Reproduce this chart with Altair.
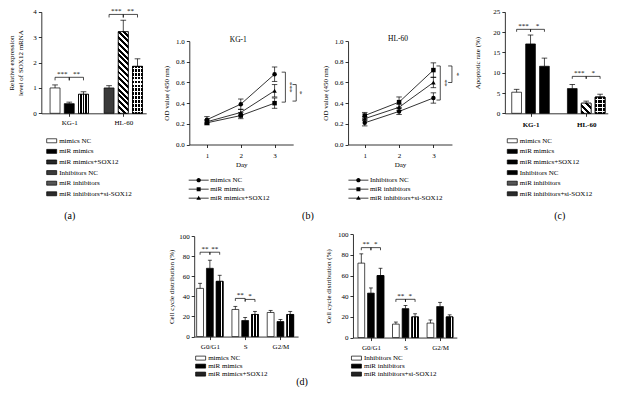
import json
import altair as alt
import pandas as pd

W, H = 601, 389
FONT = "Liberation Serif"


def px(r):
    return round((r - 2) * 0.98, 2)


def py(r):
    return round(r * 0.975, 2)


# ---------------- data ----------------
cell_lines = ["KG-1", "HL-60"]
mimic_conds = ["mimics NC", "miR mimics", "miR mimics+SOX12"]
inhib_conds = ["Inhibitors NC", "miR inhibitors", "miR inhibitors+si-SOX12"]
all_conds = mimic_conds + inhib_conds
phases = ["G0/G1", "S", "G2/M"]
days = [1, 2, 3]

# (a) relative expression level of SOX12 mRNA
a_mean = [1.00, 0.38, 0.75, 1.00, 3.22, 1.85]
a_err = [0.12, 0.06, 0.10, 0.09, 0.45, 0.30]
a_sig = [("KG-1", 0, 1, 1.42, "***"), ("KG-1", 1, 2, 1.42, "**"),
         ("HL-60", 0, 1, 3.90, "***"), ("HL-60", 1, 2, 3.90, "**")]

# (b) OD value (450 nm)
b_kg1_mean = {"mimics NC": [0.24, 0.39, 0.68], "miR mimics": [0.21, 0.28, 0.40],
              "miR mimics+SOX12": [0.22, 0.31, 0.52]}
b_kg1_err = {"mimics NC": [0.03, 0.05, 0.07], "miR mimics": [0.02, 0.03, 0.05],
             "miR mimics+SOX12": [0.02, 0.03, 0.06]}
b_hl60_mean = {"Inhibitors NC": [0.21, 0.32, 0.45], "miR inhibitors": [0.28, 0.41, 0.72],
               "miR inhibitors+si-SOX12": [0.25, 0.36, 0.60]}
b_hl60_err = {"Inhibitors NC": [0.03, 0.03, 0.05], "miR inhibitors": [0.03, 0.05, 0.07],
              "miR inhibitors+si-SOX12": [0.02, 0.03, 0.05]}
b_kg1_sig = [(0.70, 0.41, "***"), (0.58, 0.42, "*")]
b_hl60_sig = [(0.76, 0.43, "**"), (0.76, 0.60, "*")]

# (c) apoptotic rate (%)
c_mean = [5.2, 17.1, 11.6, 6.1, 2.5, 4.0]
c_err = [0.7, 2.2, 2.0, 1.0, 0.5, 0.7]
c_sig = [("KG-1", 0, 1, 20.7, "***"), ("KG-1", 1, 2, 20.7, "*"),
         ("HL-60", 0, 1, 9.1, "***"), ("HL-60", 1, 2, 9.1, "*")]

# (d) cell cycle distribution (%)
d_left_mean = {"mimics NC": [48, 27, 24], "miR mimics": [68, 16, 15], "miR mimics+SOX12": [55, 22, 22]}
d_left_err = {"mimics NC": [5, 3, 2], "miR mimics": [8, 3, 2], "miR mimics+SOX12": [6, 3, 3]}
d_right_mean = {"Inhibitors NC": [72, 13, 14], "miR inhibitors": [43, 28, 30],
                "miR inhibitors+si-SOX12": [60, 20, 20]}
d_right_err = {"Inhibitors NC": [9, 2, 3], "miR inhibitors": [5, 3, 4], "miR inhibitors+si-SOX12": [7, 3, 2]}
d_left_sig = [("G0/G1", 0, 1, 84, "**"), ("G0/G1", 1, 2, 84, "**"),
              ("S", 0, 1, 38, "**"), ("S", 1, 2, 37, "*")]
d_right_sig = [("G0/G1", 0, 1, 87, "**"), ("G0/G1", 1, 2, 87, "*"),
               ("S", 0, 1, 37, "**"), ("S", 1, 2, 37, "*")]


# ---------------- fill patterns (linear gradients) ----------------
def vstripes(n, frac=0.28, dark="black", light="white"):
    stops = []
    for i in range(n):
        a, c = i / n, (i + 1) / n
        m1 = (i + 0.5 - frac / 2) / n
        m2 = (i + 0.5 + frac / 2) / n
        stops += [dict(offset=a, color=dark), dict(offset=m1, color=dark),
                  dict(offset=m1, color=light), dict(offset=m2, color=light),
                  dict(offset=m2, color=dark), dict(offset=c, color=dark)]
    return dict(gradient="linear", x1=0, y1=0, x2=1, y2=0, stops=stops)


def hlines(n, frac=0.25, light="white"):
    clear = "rgba(0,0,0,0)"
    stops = []
    for i in range(n):
        a, c = i / n, (i + 1) / n
        m1 = (i + 0.5 - frac / 2) / n
        m2 = (i + 0.5 + frac / 2) / n
        stops += [dict(offset=a, color=clear), dict(offset=m1, color=clear),
                  dict(offset=m1, color=light), dict(offset=m2, color=light),
                  dict(offset=m2, color=clear), dict(offset=c, color=clear)]
    return dict(gradient="linear", x1=0, y1=0, x2=0, y2=1, stops=stops)


def diag(r, n, dark="black", light="white"):
    dx = (1 + r) / (1 + r * r)
    dy = r * dx
    stops = []
    for i in range(n):
        a, b, c = i / n, (i + 0.5) / n, (i + 1) / n
        stops += [dict(offset=a, color=dark), dict(offset=b, color=dark),
                  dict(offset=b, color=light), dict(offset=c, color=light)]
    return dict(gradient="linear", x1=0, y1=1, x2=round(dx, 4), y2=round(1 - dy, 4), stops=stops)


# ---------------- helpers ----------------
def sc(dom, rng):
    return alt.Scale(domain=dom, range=rng, nice=False, zero=False)


def bar_legend(x, y, rowpad):
    return alt.Legend(orient="none", legendX=x, legendY=y, title=None, direction="vertical",
                      symbolType="M-2.5,-1H2.5V1H-2.5Z", symbolSize=16,
                      symbolStrokeColor="black", symbolStrokeWidth=0.7,
                      labelFont=FONT, labelFontSize=7, labelColor="black",
                      rowPadding=rowpad, labelOffset=4, padding=0)


def text_layer(txt, x, y, size):
    return alt.Chart(pd.DataFrame({"t": [txt]})).mark_text(
        font=FONT, fontSize=size, color="black").encode(x=alt.value(x), y=alt.value(y), text="t:N")


def bar_panel(P, groups, conds_by_group, means, errs, sig, domain, fills, legend,
              patterns, ytitle, yvals, xbold=False):
    rows = []
    for gi, g in enumerate(groups):
        for si, c in enumerate(conds_by_group[gi]):
            m, e = means[gi][si], errs[gi][si]
            pos = gi * P["step"] + si
            rows.append(dict(group=g, cond=c, pos=pos, lo=pos - 0.35, hi=pos + 0.35,
                             cl=pos - 0.2, cr=pos + 0.2, mean=m, top=m + e, zero=0))
    df = pd.DataFrame(rows)
    srows, lrows = [], []
    for g, i, j, y, t in sig:
        gi = groups.index(g)
        xa, xb = gi * P["step"] + i, gi * P["step"] + j
        srows.append(dict(xa=xa, xb=xb, xm=(xa + xb) / 2, ys=y, text=t))
        lrows += [dict(x=xa, ys=y, yl=y - P["leg"]), dict(x=xb, ys=y, yl=y - P["leg"])]
    sdf, ldf = pd.DataFrame(srows), pd.DataFrame(lrows)

    xs, ys = sc(P["xdom"], P["xr"]), sc(P["ydom"], P["yr"])
    centers = [gi * P["step"] + 1 for gi in range(len(groups))]
    lexpr = "%s[round((datum.value - 1) / %s)]" % (json.dumps(groups), P["step"])
    xax = alt.Axis(orient="bottom", offset=round(py(P["ax_y"]) - H, 2), values=centers,
                   labelExpr=lexpr, labelFontWeight="bold" if xbold else "normal",
                   labelPadding=P.get("xlp", 2))
    yax = alt.Axis(orient="left", offset=-px(P["ax_x"]), values=yvals, format="d",
                   titlePadding=P["tpad"])
    X = lambda f: alt.X(f, type="quantitative", scale=xs, axis=None, title=None)
    Y = lambda f: alt.Y(f, type="quantitative", scale=ys, axis=None, title=None)
    base = alt.Chart(df)
    layers = [base.mark_bar(stroke="black", strokeWidth=0.7).encode(
        x=alt.X("lo:Q", scale=xs, axis=xax, title=None), x2="hi:Q",
        y=alt.Y("mean:Q", scale=ys, axis=yax, title=ytitle), y2="zero:Q",
        fill=alt.Fill("cond:N", scale=alt.Scale(domain=domain, range=fills), legend=legend))]
    for cond, grads in patterns:
        for gr in grads:
            layers.append(base.transform_filter(alt.datum.cond == cond)
                          .mark_bar(fill=gr, stroke="black", strokeWidth=0.7)
                          .encode(x=X("lo:Q"), x2="hi:Q", y=Y("mean:Q"), y2="zero:Q"))
    layers.append(base.mark_rule(color="black", strokeWidth=0.7).encode(x=X("pos:Q"), y=Y("mean:Q"), y2="top:Q"))
    layers.append(base.mark_rule(color="black", strokeWidth=0.7).encode(x=X("cl:Q"), x2="cr:Q", y=Y("top:Q")))
    layers.append(alt.Chart(sdf).mark_rule(color="black", strokeWidth=0.7).encode(x=X("xa:Q"), x2="xb:Q", y=Y("ys:Q")))
    layers.append(alt.Chart(ldf).mark_rule(color="black", strokeWidth=0.7).encode(x=X("x:Q"), y=Y("ys:Q"), y2="yl:Q"))
    layers.append(alt.Chart(sdf).mark_text(font=FONT, fontSize=7, baseline="bottom", dy=-0.5, color="black")
                  .encode(x=X("xm:Q"), y=Y("ys:Q"), text="text:N"))
    return layers


LINE_SYMBOLS = [
    "M-5,-0.2H5V0.2H-5Z M1.1,0A1.1,1.1,0,1,1,-1.1,0A1.1,1.1,0,1,1,1.1,0Z",
    "M-5,-0.2H5V0.2H-5Z M-1,-1H1V1H-1Z",
    "M-5,-0.2H5V0.2H-5Z M0,-1.25L1.15,0.8H-1.15Z",
]


def line_panel(P, conds, means, errs, sig, title_text):
    rows = []
    for c in conds:
        for di, d in enumerate(days):
            m, e = means[c][di], errs[c][di]
            rows.append(dict(cond=c, day=d, mean=m, lo=m - e, hi=m + e, cl=d - 0.08, cr=d + 0.08))
    df = pd.DataFrame(rows)
    srows = []
    for k, (yt, yb, t) in enumerate(sig):
        xv = P["bx"][k]
        srows.append(dict(xv=xv, xl=xv - P["leg"], xt=P["tx"][k], yt=yt, yb=yb, ym=(yt + yb) / 2, text=t))
    sdf = pd.DataFrame(srows)
    xs, ys = sc(P["xdom"], P["xr"]), sc([0, 1], P["yr"])
    xax = alt.Axis(orient="bottom", offset=round(py(P["ax_y"]) - H, 2), values=days, format="d",
                   labelPadding=4, titlePadding=2)
    yax = alt.Axis(orient="left", offset=-px(P["ax_x"]), values=[0, 0.2, 0.4, 0.6, 0.8, 1.0],
                   format=".1f", titlePadding=P["tpad"])
    X = lambda f: alt.X(f, type="quantitative", scale=xs, axis=None, title=None)
    Y = lambda f: alt.Y(f, type="quantitative", scale=ys, axis=None, title=None)
    base = alt.Chart(df)
    shp = alt.Scale(domain=conds, range=["circle", "square", "triangle-up"])
    layers = [
        base.mark_line(color="black", strokeWidth=0.8).encode(
            x=alt.X("day:Q", scale=xs, axis=xax, title="Day"),
            y=alt.Y("mean:Q", scale=ys, axis=yax, title="OD value (450 nm)"),
            detail="cond:N"),
        base.mark_rule(color="black", strokeWidth=0.7).encode(x=X("day:Q"), y=Y("lo:Q"), y2="hi:Q"),
        base.mark_rule(color="black", strokeWidth=0.7).encode(x=X("cl:Q"), x2="cr:Q", y=Y("hi:Q")),
        base.mark_rule(color="black", strokeWidth=0.7).encode(x=X("cl:Q"), x2="cr:Q", y=Y("lo:Q")),
        base.mark_point(filled=True, color="black", opacity=1, size=20).encode(
            x=X("day:Q"), y=Y("mean:Q"), shape=alt.Shape("cond:N", scale=shp, legend=None)),
        alt.Chart(sdf).mark_rule(color="black", strokeWidth=0.7).encode(x=X("xv:Q"), y=Y("yt:Q"), y2="yb:Q"),
        alt.Chart(sdf).mark_rule(color="black", strokeWidth=0.7).encode(x=X("xl:Q"), x2="xv:Q", y=Y("yt:Q")),
        alt.Chart(sdf).mark_rule(color="black", strokeWidth=0.7).encode(x=X("xl:Q"), x2="xv:Q", y=Y("yb:Q")),
        alt.Chart(sdf).mark_text(font=FONT, fontSize=7, angle=90, color="black").encode(
            x=X("xt:Q"), y=Y("ym:Q"), text="text:N"),
        base.transform_filter("false").mark_point(filled=True, color="black", opacity=1).encode(
            shape=alt.Shape("cond:N", scale=alt.Scale(domain=conds, range=LINE_SYMBOLS),
                            legend=alt.Legend(orient="none", legendX=P["lx"], legendY=P["ly"], title=None,
                                              direction="vertical", symbolSize=16,
                                              symbolFillColor="black", symbolStrokeColor="black",
                                              symbolStrokeWidth=0.3, labelFont=FONT, labelFontSize=7,
                                              labelColor="black", rowPadding=1, labelOffset=8,
                                              padding=0))),
        text_layer(title_text, px(P["title"][0]), py(P["title"][1]), 7.5),
    ]
    return layers


# ---------------- panel geometry ----------------
PA = dict(xdom=[-0.966, 6.41], xr=[px(36), px(143)], ydom=[0, 4], yr=[py(108), py(4)],
          step=3.8, leg=0.12, ax_x=36, ax_y=108, tpad=9)
PB1 = dict(xdom=[0.478, 3.55], xr=[px(187), px(293)], yr=[py(140), py(34)], ax_x=187, ax_y=140,
           tpad=6, bx=[3.32, 3.64], tx=[3.45, 3.76], leg=0.11, lx=px(193), ly=py(173), title=(237, 33))
PB2 = dict(xdom=[0.514, 3.54], xr=[px(349), px(455)], yr=[py(140), py(34)], ax_x=349, ax_y=140,
           tpad=6, bx=[3.2, 3.54], tx=[3.34, 3.69], leg=0.11, lx=px(356), ly=py(173), title=(400, 32))
PC = dict(xdom=[-0.845, 6.55], xr=[px(509), px(614)], ydom=[0, 25], yr=[py(108), py(4)],
          step=4.0, leg=0.6, ax_x=509, ax_y=108, tpad=12, xlp=4)
PD1 = dict(xdom=[-0.6, 10.0], xr=[px(192), px(298)], ydom=[0, 100], yr=[py(337), py(234)],
           step=3.6, leg=2.5, ax_x=192, ax_y=337, tpad=4, xlp=3)
PD2 = dict(xdom=[-0.87, 9.95], xr=[px(354), px(460)], ydom=[0, 100], yr=[py(338), py(232)],
           step=3.6, leg=2.5, ax_x=354, ax_y=338, tpad=6, xlp=3)

# ---------------- build ----------------
layers = []

a_fill = ["white", "black", "#262626", "#3a3a3a", "#555555", "#2a2a2a"]
a_h_px = a_mean[4] * (py(108) - py(4)) / 4
a_w_px = 0.7 * (px(143) - px(36)) / (6.41 + 0.966)
layers += bar_panel(
    PA, cell_lines, [mimic_conds, inhib_conds], [a_mean[:3], a_mean[3:]], [a_err[:3], a_err[3:]],
    a_sig, all_conds, a_fill, bar_legend(px(43), py(132.6), 2.6),
    [("miR mimics+SOX12", [vstripes(4, 0.3)]),
     ("miR inhibitors", [diag(a_h_px / a_w_px, 16)]),
     ("miR inhibitors+si-SOX12", [vstripes(3, 0.3), hlines(12, 0.3)])],
    ["Relative expression", "level of SOX12 mRNA"], [0, 1, 2, 3, 4])

layers += line_panel(PB1, mimic_conds, b_kg1_mean, b_kg1_err, b_kg1_sig, "KG-1")
layers += line_panel(PB2, inhib_conds, b_hl60_mean, b_hl60_err, b_hl60_sig, "HL-60")

c_fill = ["white", "black", "black", "black", "#555555", "#2a2a2a"]
c_h_px = c_mean[4] * (py(108) - py(4)) / 25
c_w_px = 0.7 * (px(614) - px(509)) / (6.55 + 0.845)
layers += bar_panel(
    PC, cell_lines, [mimic_conds, inhib_conds], [c_mean[:3], c_mean[3:]], [c_err[:3], c_err[3:]],
    c_sig, all_conds, c_fill, bar_legend(px(513), py(132.6), 2.6),
    [("miR inhibitors", [diag(c_h_px / c_w_px, 3)]),
     ("miR inhibitors+si-SOX12", [vstripes(2, 0.15), hlines(4, 0.22)])],
    "Apoptotic rate (%)", [0, 5, 10, 15, 20, 25], xbold=True)

layers += bar_panel(
    PD1, phases, [mimic_conds] * 3,
    [[d_left_mean[c][p] for c in mimic_conds] for p in range(3)],
    [[d_left_err[c][p] for c in mimic_conds] for p in range(3)],
    d_left_sig, mimic_conds, ["white", "black", "#222222"], bar_legend(px(195), py(355.5), 0),
    [("miR mimics+SOX12", [vstripes(2, 0.18)])],
    "Cell cycle distribution (%)", [0, 20, 40, 60, 80, 100])

layers += bar_panel(
    PD2, phases, [inhib_conds] * 3,
    [[d_right_mean[c][p] for c in inhib_conds] for p in range(3)],
    [[d_right_err[c][p] for c in inhib_conds] for p in range(3)],
    d_right_sig, inhib_conds, ["white", "black", "#222222"], bar_legend(px(354), py(355.5), 0),
    [("miR inhibitors+si-SOX12", [vstripes(2, 0.18)])],
    "Cell cycle distribution (%)", [0, 20, 40, 60, 80, 100])

layers += [
    text_layer("(a)", px(65), py(213), 10),
    text_layer("(b)", px(308), py(213), 10),
    text_layer("(c)", px(565), py(213), 10),
    text_layer("(d)", px(302), py(384), 10),
]

chart = (
    alt.layer(*layers)
    .resolve_scale(x="independent", y="independent", fill="independent", shape="independent")
    .resolve_axis(x="independent", y="independent")
    .resolve_legend(fill="independent", shape="independent")
    .properties(width=W, height=H, autosize=alt.AutoSizeParams(type="none"), padding=0,
                background="white")
    .configure_view(stroke=None)
    .configure_axis(labelFont=FONT, labelFontSize=7, titleFont=FONT, titleFontSize=7,
                    titleFontWeight="normal", labelColor="black", titleColor="black",
                    domainColor="black", tickColor="black", tickSize=3, domainWidth=0.8,
                    tickWidth=0.8, grid=False, labelPadding=2, labelFlush=False,
                    labelOverlap=False)
)

chart.save("out.html", embed_options={"renderer": "svg", "actions": False})
